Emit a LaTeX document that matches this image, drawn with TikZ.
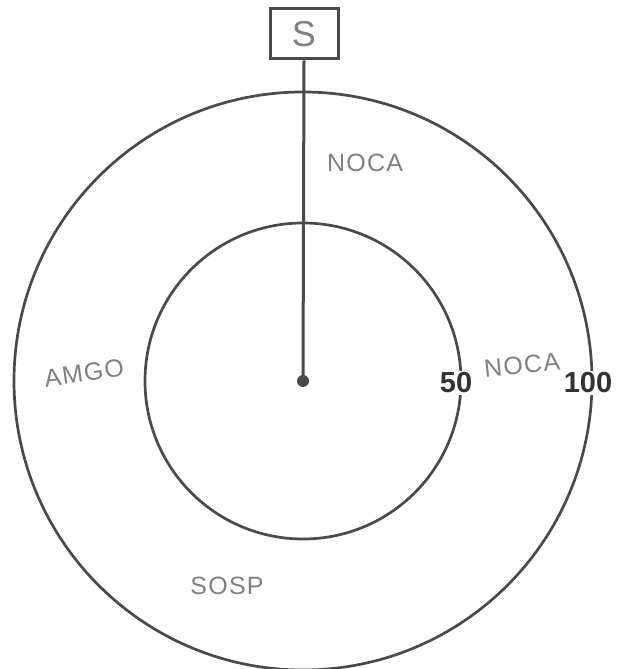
\documentclass[tikz,border=0pt]{standalone}
\usepackage{fontspec}
\setmainfont{Liberation Sans}
\newfontfamily\handfont[LetterSpace=5]{Liberation Sans}
\definecolor{linegray}{HTML}{4A4A4A}
\definecolor{handgray}{HTML}{808080}
\definecolor{numgray}{HTML}{333333}
\tikzset{
  ring/.style={draw=linegray, line width=2.7pt},
  handlabel/.style={text=handgray, font=\handfont\fontsize{25}{27}\selectfont, inner sep=0pt},
  numlabel/.style={text=numgray, font=\bfseries\fontsize{29}{31}\selectfont, fill=white, inner sep=1.5pt},
  stationbox/.style={draw=linegray, line width=3pt, minimum width=68pt, minimum height=50pt, inner sep=0pt, text=handgray, font=\fontsize{36}{38}\selectfont},
}
\begin{document}
\begin{tikzpicture}[x=1pt,y=1pt]
\useasboundingbox (0,0) rectangle (626,669);
\coordinate (c) at (303,288);
\draw[ring] (c) circle (289);
\draw[ring] (c) circle (158);
\node[stationbox] (s) at (304,635) {S};
\fill[linegray] (c) circle (6);
\node[minimum size=0pt, inner sep=0pt] (dot) at (c) {};
\draw[draw=linegray, line width=3pt] (s.south) -- (dot);
\node[handlabel] (noca1) at (365,506) {NOCA};
\node[handlabel, rotate=6] (noca2) at (522,304) {NOCA};
\node[handlabel, rotate=8] (amgo) at (84,296) {AMGO};
\node[handlabel] (sosp) at (227,83) {SOSP};
\node[numlabel] (n50) at (456,286) {50};
\node[numlabel] (n100) at (588,286) {100};
\end{tikzpicture}
\end{document}
